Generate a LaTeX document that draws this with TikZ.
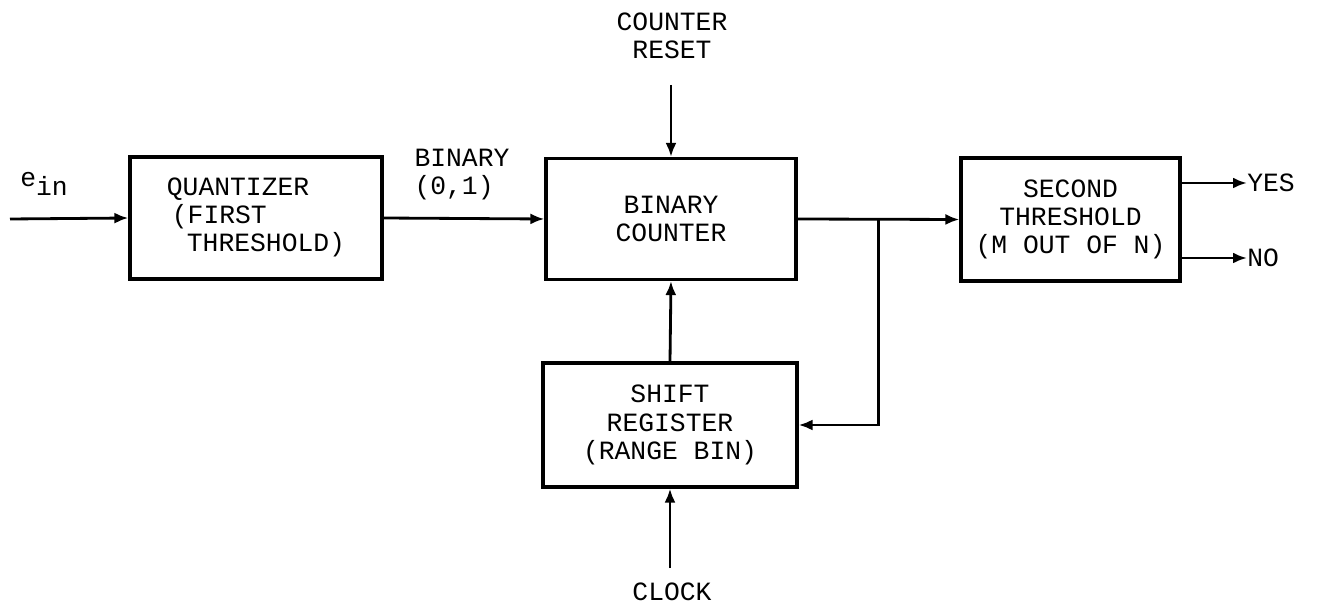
\documentclass[tikz,border=0pt]{standalone}
\usepackage{fontspec}
\usepackage{tikz}
\usetikzlibrary{shapes,positioning,calc,arrows.meta}
\newfontfamily\typewfont{Liberation Mono}
\newcommand{\boxfont}{\typewfont\fontsize{15}{16}\selectfont}

\begin{document}
\begin{tikzpicture}[x=0.02cm, y=-0.02cm, >={Latex[length=0.28cm,width=0.22cm]},
    block/.style={draw, line width=1.8pt, align=center, font=\boxfont, inner sep=0pt},
    lab/.style={align=center, font=\boxfont, inner sep=0pt},
    wire/.style={->, line width=1.6pt}]
    \useasboundingbox (0,0) rectangle (1339,604);

    % Draw the four blocks
    \node[block, minimum width=5.04cm, minimum height=2.44cm] (quant) at (256,218)
      {\begin{tabular}{@{}l@{}}QUANTIZER\\\hspace*{0.1cm}(FIRST\\\hspace*{0.4cm}THRESHOLD)\end{tabular}};
    \node[block, minimum width=5.0cm, minimum height=2.42cm] (counter) at (671,219)
      {BINARY\\COUNTER};
    \node[block, minimum width=4.38cm, minimum height=2.46cm] (second) at (1070.5,219.5)
      {SECOND\\THRESHOLD\\(M OUT OF N)};
    \node[block, minimum width=5.08cm, minimum height=2.48cm] (shift) at (670,425)
      {SHIFT\\REGISTER\\(RANGE BIN)};

    % Draw labels
    \node[lab] (ein) at (44,184) {e\raisebox{-0.7ex}{in}};
    \node[lab, align=left] (bin) at (462,175) {BINARY\\(0,1)};
    \node[lab] (reset) at (672,36) {COUNTER\\RESET};
    \node[lab] (clock) at (672,592) {CLOCK};
    \node[lab, anchor=west] (yes) at (1247,183) {YES};
    \node[lab, anchor=west] (no) at (1247,258) {NO};

    % Free ends and branch point
    \coordinate (src) at (10,219);
    \coordinate (rtop) at (671,85);
    \coordinate (ctop) at (670,568);
    \coordinate (junc) at ($(counter.east)!0.5!(second.west)$);

    % Draw forward connecting arrows
    \draw[wire] (src) -- (quant.west);
    \draw[wire] (quant.east) -- (counter.west);
    \draw[wire] (counter.east) -- (second.west);
    \draw[wire] (second.east |- yes) -- (yes.west);
    \draw[wire] (second.east |- no) -- (no.west);

    % Draw ver. connecting arrows
    \draw[wire] (rtop) -- (counter.north);
    \draw[wire] (shift.north) -- (counter.south);
    \draw[wire] (ctop) -- (shift.south);

    % Draw feedback arrow
    \draw[wire] (junc) |- (shift.east);

  \end{tikzpicture}
\end{document}
